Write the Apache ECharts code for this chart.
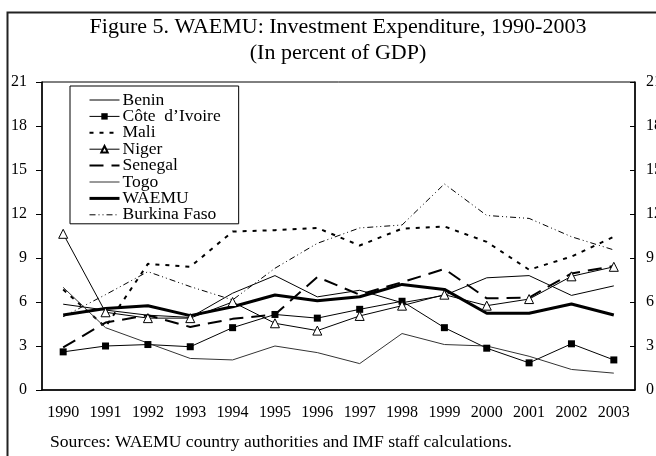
<!DOCTYPE html>
<html>
<head>
<meta charset="utf-8">
<script src="https://cdn.jsdelivr.net/npm/echarts@6/dist/echarts.min.js"></script>
<style>
  html, body { margin: 0; padding: 0; background: #fff; }
  #chart { width: 656px; height: 456px; }
</style>
</head>
<body>
<div id="chart"></div>
<script>
var years = ["1990", "1991", "1992", "1993", "1994", "1995", "1996", "1997", "1998", "1999", "2000", "2001", "2002", "2003"];
var benin = [5.85, 5.45, 5.1, 4.95, 6.6, 7.8, 6.35, 6.8, 5.95, 6.45, 7.65, 7.8, 6.45, 7.1];
var coteIvoire = [2.6, 3.0, 3.1, 2.95, 4.25, 5.15, 4.9, 5.5, 6.05, 4.25, 2.85, 1.85, 3.15, 2.05];
var mali = [6.85, 4.3, 8.6, 8.4, 10.8, 10.9, 11.05, 9.85, 11.0, 11.15, 10.1, 8.2, 9.1, 10.45];
var niger = [10.65, 5.3, 4.9, 4.9, 6.0, 4.55, 4.05, 5.05, 5.75, 6.5, 5.75, 6.2, 7.75, 8.4];
var senegal = [2.9, 4.6, 5.1, 4.3, 4.85, 5.15, 7.7, 6.5, 7.35, 8.25, 6.25, 6.3, 7.95, 8.45];
var togo = [7.0, 4.25, 3.2, 2.15, 2.05, 3.0, 2.55, 1.8, 3.85, 3.1, 3.0, 2.3, 1.4, 1.15];
var waemu = [5.12, 5.55, 5.75, 5.07, 5.68, 6.48, 6.09, 6.36, 7.2, 6.86, 5.23, 5.23, 5.86, 5.11];
var burkina = [5.0, 6.5, 8.07, 7.05, 6.14, 8.3, 10.0, 11.05, 11.25, 14.05, 11.9, 11.7, 10.45, 9.55];
var names = ["Benin", "Côte  d’Ivoire", "Mali", "Niger", "Senegal", "Togo", "WAEMU", "Burkina Faso"];
var withMarker = ["Côte  d’Ivoire", "Niger"];

var serif = '"Liberation Serif", "Times New Roman", serif';

// line look per country, shared by series and legend
var styles = {
  "Benin": { color: "#000", width: 1, type: "solid" },
  "Côte  d’Ivoire": { color: "#000", width: 1, type: "solid" },
  "Mali": { color: "#000", width: 2, type: [4, 6] },
  "Niger": { color: "#000", width: 1, type: "solid" },
  "Senegal": { color: "#000", width: 2, type: [14, 8] },
  "Togo": { color: "#333", width: 1, type: "solid" },
  "WAEMU": { color: "#000", width: 3, type: "solid" },
  "Burkina Faso": { color: "#000", width: 1, type: [6, 3, 1, 3, 1, 3] },
};

function line(name, data, extra) {
  var s = {
    name: name,
    type: "line",
    data: data,
    symbol: "none",
    silent: true,
    animation: false,
    lineStyle: styles[name],
    itemStyle: { color: "#000" },
  };
  return Object.assign(s, extra || {});
}

// hide the round marker the legend puts on plain lines
var legendData = names.map(function (n) {
  var item = { name: n, lineStyle: styles[n] };
  if (withMarker.indexOf(n) < 0) {
    item.itemStyle = { opacity: 0, color: "rgba(0,0,0,0)", borderWidth: 0 };
  }
  return item;
});

var chart = echarts.init(document.getElementById("chart"));
chart.setOption({
  animation: false,
  textStyle: { fontFamily: serif },
  graphic: [
    {
      type: "rect",
      shape: { x: 7.5, y: 12.5, width: 720, height: 520 },
      style: { fill: "none", stroke: "#222", lineWidth: 2 },
      z: 100,
    },
    {
      type: "text",
      x: 338,
      y: 27,
      style: {
        text: "Figure 5. WAEMU: Investment Expenditure, 1990-2003",
        font: "22px " + serif,
        fill: "#000",
        align: "center",
        verticalAlign: "middle",
      },
    },
    {
      type: "text",
      x: 338,
      y: 53,
      style: {
        text: "(In percent of GDP)",
        font: "22px " + serif,
        fill: "#000",
        align: "center",
        verticalAlign: "middle",
      },
    },
    {
      type: "text",
      x: 50,
      y: 442,
      style: {
        text: "Sources: WAEMU country authorities and IMF staff calculations.",
        font: "17.6px " + serif,
        fill: "#000",
        align: "left",
        verticalAlign: "middle",
      },
    },
  ],
  grid: {
    left: 42,
    right: 21,
    top: 82,
    bottom: 66,
    containLabel: false,
    outerBoundsMode: "none",
    show: true,
    borderColor: "#000",
    borderWidth: 1,
  },
  legend: {
    data: legendData,
    orient: "vertical",
    left: 70,
    top: 86,
    padding: [5, 18, 0, 18],
    itemWidth: 30,
    itemHeight: 8,
    itemGap: -1.6,
    borderColor: "#000",
    borderWidth: 1,
    backgroundColor: "#fff",
    textStyle: { fontFamily: serif, fontSize: 17.5, lineHeight: 16, color: "#000", padding: [0, 0, 0, -2] },
  },
  xAxis: {
    type: "category",
    data: years,
    boundaryGap: true,
    axisLine: { lineStyle: { color: "#000", width: 1.5 } },
    axisTick: { inside: true, length: 5, lineStyle: { color: "#000" } },
    axisLabel: { color: "#000", fontSize: 16, fontFamily: serif, margin: 15 },
    splitLine: { show: false },
  },
  yAxis: [
    {
      type: "value",
      min: 0,
      max: 21,
      interval: 3,
      position: "left",
      axisLine: { show: true, lineStyle: { color: "#000", width: 1.5 } },
      axisTick: { show: true, inside: false, length: 6, lineStyle: { color: "#000" } },
      axisLabel: { color: "#000", fontSize: 16, fontFamily: serif, margin: 15 },
      splitLine: { show: false },
    },
    {
      type: "value",
      min: 0,
      max: 21,
      interval: 3,
      position: "right",
      axisLine: { show: true, lineStyle: { color: "#000", width: 1.5 } },
      axisTick: { show: true, inside: true, length: 5, lineStyle: { color: "#000" } },
      axisLabel: { color: "#000", fontSize: 16, fontFamily: serif, margin: 11 },
      splitLine: { show: false },
    },
  ],
  series: [
    line(names[0], benin),
    line(names[1], coteIvoire, {
      symbol: "rect",
      symbolSize: 7,
      showSymbol: true,
      itemStyle: { color: "#000" },
    }),
    line(names[2], mali),
    line(names[3], niger, {
      symbol: "triangle",
      symbolSize: 9,
      showSymbol: true,
      itemStyle: { color: "#fff", borderColor: "#000", borderWidth: 1 },
    }),
    line(names[4], senegal),
    line(names[5], togo),
    line(names[6], waemu),
    line(names[7], burkina),
  ],
});
</script>
</body>
</html>
